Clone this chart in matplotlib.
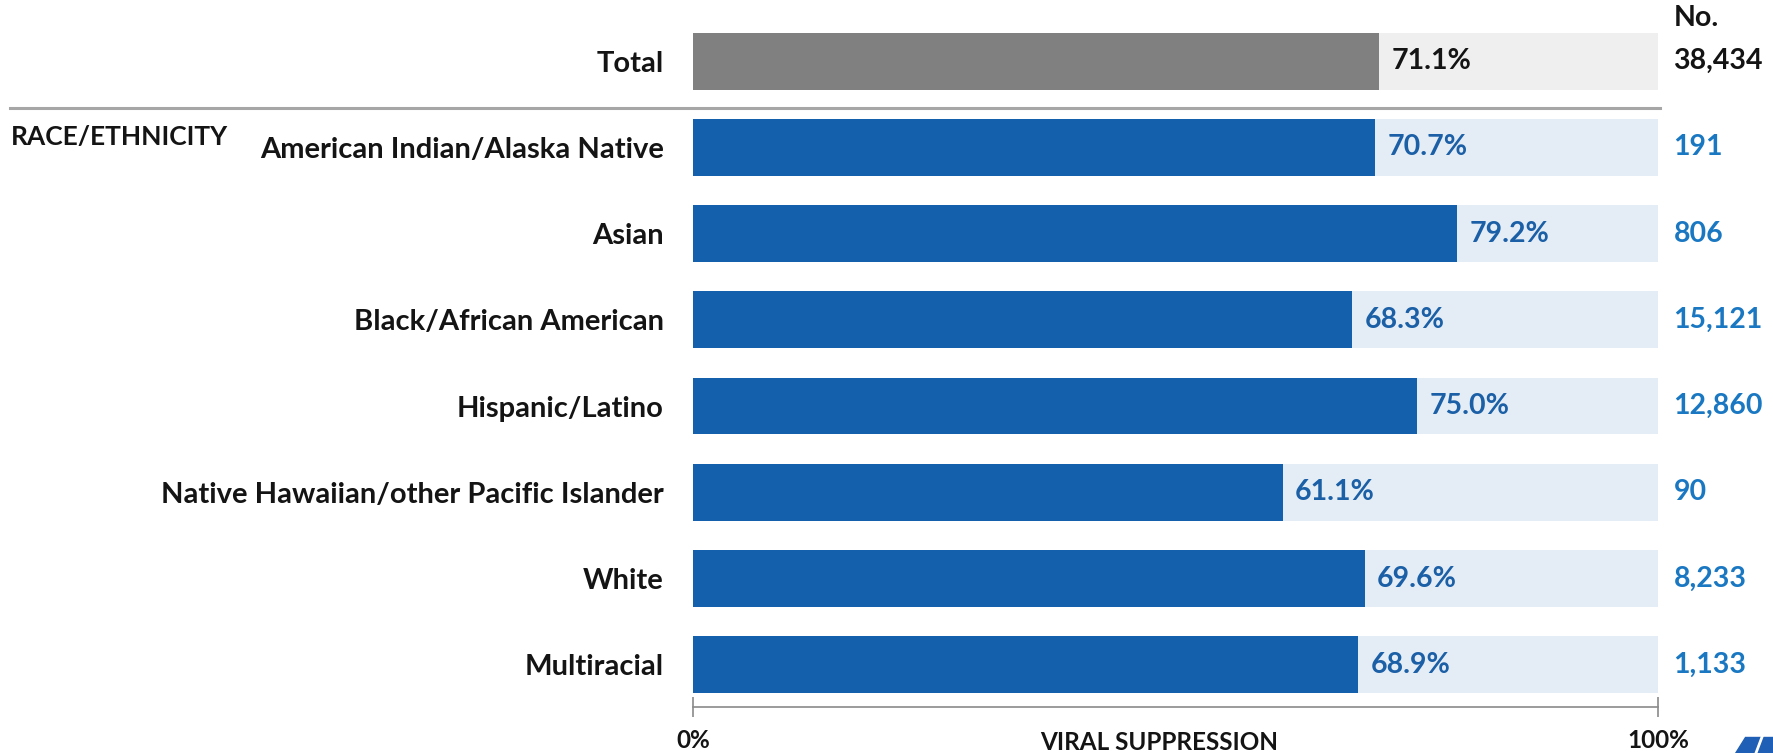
import matplotlib
matplotlib.use("Agg")
import matplotlib.pyplot as plt
import matplotlib.transforms as mtransforms
from matplotlib.patches import Polygon

plt.rcParams['font.family'] = ['Lato', 'DejaVu Sans']

# ---- data ----
categories = ["Total", "American Indian/Alaska Native", "Asian", "Black/African American",
              "Hispanic/Latino", "Native Hawaiian/other Pacific Islander", "White", "Multiracial"]
suppression = [71.1, 70.7, 79.2, 68.3, 75.0, 61.1, 69.6, 68.9]
counts = ["38,434", "191", "806", "15,121", "12,860", "90", "8,233", "1,133"]
section_label = "RACE/ETHNICITY"
x_ticks = [0, 100]
x_tick_labels = ["0%", "100%"]

# ---- colours ----
BLUE = "#1560ac"
BLUE_BG = "#e4edf6"
GRAY = "#808080"
GRAY_BG = "#efefef"
VAL_BLUE = "#1b5fa6"
CNT_BLUE = "#1a78c2"
TXT = "#141414"

FS = 20.5

W, H = 1773, 753
fig = plt.figure(figsize=(W / 100, H / 100), dpi=100)
# axes spans bar area; bottom edge is the axis line
ax = fig.add_axes([693 / W, 1 - 707 / H, (1658 - 693) / W, 707 / H])

ypos = list(range(len(categories)))
bar_h = 0.66
bar_colors = [GRAY] + [BLUE] * (len(categories) - 1)
bg_colors = [GRAY_BG] + [BLUE_BG] * (len(categories) - 1)

ax.barh(ypos, [100] * len(ypos), height=bar_h, color=bg_colors, zorder=1)
ax.barh(ypos, suppression, height=bar_h, color=bar_colors, zorder=2)

ax.set_xlim(0, 100)
ax.set_ylim(7.49, -0.708)

for i, (v, c) in enumerate(zip(suppression, counts)):
    col_v = TXT if i == 0 else VAL_BLUE
    col_c = TXT if i == 0 else CNT_BLUE
    ax.text(v + 1.3, i, f"{v:.1f}%", va="center", ha="left", fontsize=FS,
            fontweight="bold", color=col_v, zorder=3)
    ax.text(101.6, i, c, va="center", ha="left", fontsize=FS,
            fontweight="bold", color=col_c, clip_on=False)

ax.text(101.6, -0.50, "No.", va="center", ha="left", fontsize=FS,
        fontweight="bold", color=TXT, clip_on=False)

# category labels
ax.set_yticks(ypos)
ax.set_yticklabels(categories, fontsize=21, fontweight="bold", color=TXT)
ax.tick_params(axis="y", length=0, pad=21)

# x axis
ax.set_xticks(x_ticks)
ax.set_xticklabels(x_tick_labels, fontsize=17.5, fontweight="bold", color=TXT)
ax.tick_params(axis="x", direction="inout", length=14, width=1.2, color="#8a8a8a", pad=9)
for s in ["top", "right", "left"]:
    ax.spines[s].set_visible(False)
ax.spines["bottom"].set_color("#8a8a8a")
ax.spines["bottom"].set_linewidth(1.2)

fig.text(1159 / W, 1 - 743 / H, "VIRAL SUPPRESSION", ha="center", va="center",
         fontsize=17.5, fontweight="bold", color=TXT)

# separator between total and groups
trans = mtransforms.blended_transform_factory(fig.transFigure, ax.transData)
ax.plot([10 / W, 1660 / W], [0.545, 0.545], transform=trans, color="#a6a6a6",
        linewidth=2.2, clip_on=False)
ax.text(11 / W, 0.88, section_label, transform=trans, ha="left", va="center",
        fontsize=19, fontweight="bold", color=TXT)

# cropped logo in the corner
logo = Polygon([(1745 / W, 1 - 737 / H), (1773 / W, 1 - 737 / H), (1773 / W, 0),
                (1735 / W, 0)], closed=True, transform=fig.transFigure,
               color="#1f5fb5")
fig.patches.append(logo)
fig.lines.append(plt.Line2D([1762 / W, 1756 / W], [1 - 737 / H, 0],
                            transform=fig.transFigure, color="white", linewidth=2))

fig.savefig("out.png", dpi=100)
